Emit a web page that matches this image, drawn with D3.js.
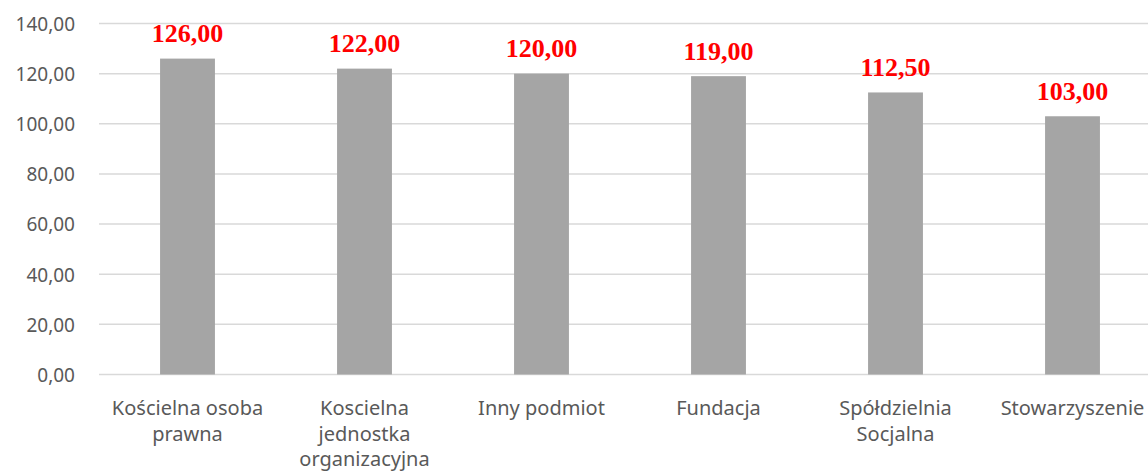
<!DOCTYPE html>
<html>
<head>
<meta charset="utf-8">
<script src="https://cdn.jsdelivr.net/npm/d3@7"></script>
<style>
  body { margin: 0; background: #fff; overflow: hidden; }
  svg { display: block; }
  .tick text { font-family: "Noto Sans", sans-serif; fill: #595959; }
</style>
</head>
<body>
<script>
// data
var categories = ["Kościelna osoba prawna", "Koscielna jednostka organizacyjna", "Inny podmiot",
                  "Fundacja", "Spółdzielnia Socjalna", "Stowarzyszenie"];
var values = [126, 122, 120, 119, 112.5, 103];
var yTicks = [0, 20, 40, 60, 80, 100, 120, 140];

var width = 1148, height = 474;
// plot box, the right end runs past the window like in the original
var plotLeft = 99, plotRight = 1161, plotTop = 23.5, plotBottom = 374.5;

var pl = d3.formatLocale({decimal: ",", thousands: " ", grouping: [3], currency: ["", " zł"]});
var fmt = pl.format(".2f");

const svg = d3.select("body").append("svg")
  .attr("width", width)
  .attr("height", height);

var scalex = d3.scaleBand()
  .domain(categories)
  .range([plotLeft, plotRight])
  .paddingInner(0.69)
  .paddingOuter(0.345);

var scaley = d3.scaleLinear()
  .domain([0, 140])
  .range([plotBottom, plotTop]);

// gridlines
svg.append("g")
  .selectAll("line")
  .data(yTicks)
  .enter().append("line")
  .attr("x1", plotLeft)
  .attr("x2", plotRight)
  .attr("y1", d => scaley(d))
  .attr("y2", d => scaley(d))
  .attr("stroke", "#d9d9d9")
  .attr("stroke-width", 1.5);

// y axis labels
var axisy = d3.axisLeft(scaley).tickValues(yTicks).tickFormat(fmt).tickSize(0).tickPadding(24);
var gy = svg.append("g")
  .attr("transform", "translate(" + plotLeft + ",0)")
  .call(axisy);
gy.select(".domain").remove();
gy.selectAll("text").style("font-size", "19px").attr("dy", "0.36em");

// bars
svg.append("g")
  .selectAll("rect")
  .data(values)
  .enter().append("rect")
  .attr("x", (d, i) => scalex(categories[i]))
  .attr("width", scalex.bandwidth())
  .attr("y", d => scaley(d))
  .attr("height", d => scaley(0) - scaley(d))
  .attr("fill", "#a5a5a5");

// value labels
svg.append("g")
  .selectAll("text")
  .data(values)
  .enter().append("text")
  .attr("x", (d, i) => scalex(categories[i]) + scalex.bandwidth() / 2)
  .attr("y", d => scaley(d) - 16.5)
  .attr("text-anchor", "middle")
  .style("font-family", "'Liberation Serif', 'Times New Roman', serif")
  .style("font-weight", "bold")
  .style("font-size", "26px")
  .style("fill", "#ff0000")
  .text(d => fmt(d));

// x axis
var axisx = d3.axisBottom(scalex).tickSize(0).tickPadding(0);
var gx = svg.append("g")
  .attr("transform", "translate(0," + plotBottom + ")")
  .call(axisx);
gx.select(".domain").remove();
gx.selectAll("text")
  .style("font-size", "20px")
  .attr("dy", null)
  .call(wrap, 170);

function wrap(sel, maxw) {
  sel.each(function () {
    var t = d3.select(this);
    var words = t.text().split(/\s+/);
    t.text(null);
    var lines = [], cur = [];
    var probe = t.append("tspan");
    words.forEach(function (w) {
      cur.push(w);
      probe.text(cur.join(" "));
      if (probe.node().getComputedTextLength() > maxw && cur.length > 1) {
        cur.pop();
        lines.push(cur.join(" "));
        cur = [w];
      }
    });
    lines.push(cur.join(" "));
    probe.remove();
    lines.forEach(function (l, i) {
      t.append("tspan")
        .attr("x", 0)
        .attr("y", 40.5 + i * 25.5)
        .text(l);
    });
  });
}
</script>
</body>
</html>
